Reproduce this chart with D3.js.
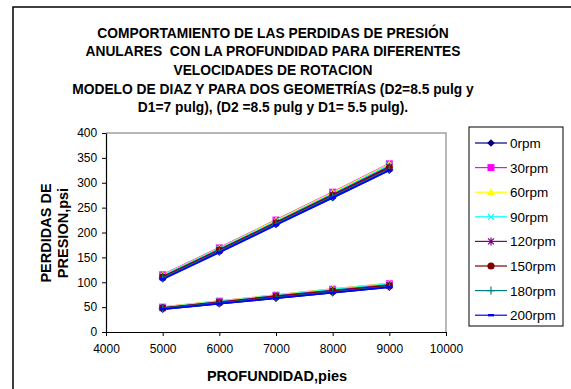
<!DOCTYPE html>
<html>
<head>
<meta charset="utf-8">
<script src="https://cdn.jsdelivr.net/npm/d3@7"></script>
<style>
  html, body { margin: 0; padding: 0; background: #fff; }
  svg { display: block; font-family: "Liberation Sans", Arial, sans-serif; }
</style>
</head>
<body>
<svg id="chart" width="571" height="389"></svg>
<script>
// Depth (ft) sampled for every rotation speed
const depths = [5000, 6000, 7000, 8000, 9000];
const rpmLabels = ["0rpm", "30rpm", "60rpm", "90rpm", "120rpm", "150rpm", "180rpm", "200rpm"];
const seriesColors = ["#000080", "#FF00FF", "#FFFF00", "#00FFFF", "#800080", "#800000", "#008080", "#0000FF"];
const markerKinds = ["diamond", "square", "triangle", "x", "asterisk", "circle", "plus", "dash"];

// Annular pressure losses (psi), geometry D2=8.5 / D1=7 pulg
const lossD1_7 = [
  [107, 161, 216, 270, 325],
  [115, 169, 225, 281, 338],
  [114, 168, 224, 280, 337],
  [113, 167, 222, 278, 335],
  [111, 165, 220, 276, 332],
  [110, 164, 219, 274, 330],
  [108, 162, 217, 272, 327],
  [106, 160, 215, 270, 325]
];
// Annular pressure losses (psi), geometry D2=8.5 / D1=5.5 pulg
const lossD1_55 = [
  [46, 57, 68, 79, 90],
  [50, 62, 74, 86, 97],
  [50, 62, 74, 86, 97],
  [49, 61, 73, 85, 96],
  [48, 60, 72, 83, 94],
  [48, 59, 71, 82, 93],
  [47, 58, 69, 80, 91],
  [46, 57, 68, 79, 90]
];
const xTicks = [4000, 5000, 6000, 7000, 8000, 9000, 10000];
const yTicks = [0, 50, 100, 150, 200, 250, 300, 350, 400];
const titleLines = [
  "COMPORTAMIENTO DE LAS PERDIDAS DE PRESIÓN",
  "ANULARES  CON LA PROFUNDIDAD PARA DIFERENTES",
  "VELOCIDADES DE ROTACION",
  "MODELO DE DIAZ Y PARA DOS GEOMETRÍAS (D2=8.5 pulg y",
  "D1=7 pulg), (D2 =8.5 pulg y D1= 5.5 pulg)."
];

const svg = d3.select("#chart");

// outer chart frame (open to the right and bottom)
svg.append("rect").attr("x", 13).attr("y", 7).attr("width", 600).attr("height", 420)
  .attr("fill", "#fff").attr("stroke", "#000").attr("stroke-width", 1.5);

const plot = { left: 106, top: 133, right: 446, bottom: 332 };
const x = d3.scaleLinear().domain([4000, 10000]).range([plot.left, plot.right]);
const y = d3.scaleLinear().domain([0, 400]).range([plot.bottom, plot.top]);

// plot area border (gray top/right)
svg.append("path")
  .attr("d", `M${plot.left},${plot.top}H${plot.right}V${plot.bottom}`)
  .attr("fill", "none").attr("stroke", "#a0a0a0").attr("stroke-width", 1.5);

// title
svg.append("g").selectAll("text").data(titleLines).join("text")
  .attr("x", 273).attr("y", (d, i) => 37.5 + i * 18.7)
  .attr("text-anchor", "middle").attr("font-weight", "bold").attr("font-size", 13.8)
  .style("white-space", "pre")
  .text(d => d);

// axes
const xAxis = svg.append("g").attr("transform", `translate(0,${plot.bottom})`)
  .call(d3.axisBottom(x).tickValues(xTicks).tickFormat(d3.format("d")).tickSizeOuter(0).tickSizeInner(4));
const yAxis = svg.append("g").attr("transform", `translate(${plot.left},0)`)
  .call(d3.axisLeft(y).tickValues(yTicks).tickSizeOuter(0).tickSizeInner(4));
[xAxis, yAxis].forEach(a => {
  a.select(".domain").attr("stroke", "#000").attr("stroke-width", 1.2);
  a.selectAll(".tick line").attr("stroke", "#000");
  a.selectAll(".tick text").attr("font-size", 12).attr("fill", "#000")
    .attr("font-family", "'Liberation Sans', Arial, sans-serif");
});
xAxis.selectAll(".tick text").attr("dy", "1.2em");
yAxis.selectAll(".tick text").attr("dx", "-0.15em");

// axis titles
svg.append("text").attr("x", 277).attr("y", 381).attr("text-anchor", "middle")
  .attr("font-weight", "bold").attr("font-size", 14.5).text("PROFUNDIDAD,pies");
const yt = svg.append("text").attr("transform", "translate(51,233) rotate(-90)")
  .attr("text-anchor", "middle").attr("font-weight", "bold").attr("font-size", 14.5);
yt.append("tspan").attr("x", 0).attr("dy", 0).text("PERDIDAS DE");
yt.append("tspan").attr("x", 0).attr("dy", 17).text("PRESION,psi");

// marker drawing
function drawMarker(g, kind, color, cx, cy) {
  const s = 3.8;
  switch (kind) {
    case "diamond":
      g.append("path").attr("d", `M${cx},${cy - s}L${cx + s},${cy}L${cx},${cy + s}L${cx - s},${cy}Z`).attr("fill", color); break;
    case "square":
      g.append("rect").attr("x", cx - 3.5).attr("y", cy - 3.5).attr("width", 7).attr("height", 7).attr("fill", color); break;
    case "triangle":
      g.append("path").attr("d", `M${cx},${cy - 4}L${cx + 4},${cy + 3}L${cx - 4},${cy + 3}Z`).attr("fill", color); break;
    case "x":
      g.append("path").attr("d", `M${cx - 3},${cy - 3}L${cx + 3},${cy + 3}M${cx - 3},${cy + 3}L${cx + 3},${cy - 3}`)
        .attr("stroke", color).attr("stroke-width", 1.2); break;
    case "asterisk":
      g.append("path").attr("d", `M${cx - 3},${cy - 3}L${cx + 3},${cy + 3}M${cx - 3},${cy + 3}L${cx + 3},${cy - 3}M${cx},${cy - 4}V${cy + 4}`)
        .attr("stroke", color).attr("stroke-width", 1.2); break;
    case "circle":
      g.append("circle").attr("cx", cx).attr("cy", cy).attr("r", 3.6).attr("fill", color); break;
    case "plus":
      g.append("path").attr("d", `M${cx - 4},${cy}H${cx + 4}M${cx},${cy - 4}V${cy + 4}`)
        .attr("stroke", color).attr("stroke-width", 1.2); break;
    case "dash":
      g.append("rect").attr("x", cx - 3).attr("y", cy - 1.2).attr("width", 6).attr("height", 2.4).attr("fill", color); break;
  }
}

const line = d3.line().x((d, i) => x(depths[i])).y(d => y(d));
const series = rpmLabels.map((label, k) => ({ label, color: seriesColors[k], kind: markerKinds[k], groups: [lossD1_7[k], lossD1_55[k]] }));

const lines = svg.append("g");
series.forEach(s => {
  const g = lines.append("g");
  s.groups.forEach(vals => {
    g.append("path").attr("d", line(vals)).attr("fill", "none")
      .attr("stroke", s.color).attr("stroke-width", 1.8);
    vals.forEach((v, i) => drawMarker(g, s.kind, s.color, x(depths[i]), y(v)));
  });
});

// legend
const leg = svg.append("g");
leg.append("rect").attr("x", 469).attr("y", 127).attr("width", 94).attr("height", 199)
  .attr("fill", "#fff").attr("stroke", "#000").attr("stroke-width", 1);
series.forEach((s, k) => {
  const cy = 143 + k * 24.6;
  const g = leg.append("g");
  g.append("line").attr("x1", 475).attr("x2", 507).attr("y1", cy).attr("y2", cy)
    .attr("stroke", s.color).attr("stroke-width", 1.2);
  drawMarker(g, s.kind, s.color, 491, cy);
  g.append("text").attr("x", 510).attr("y", cy + 5).attr("font-size", 13.5).text(s.label);
});
</script>
</body>
</html>
